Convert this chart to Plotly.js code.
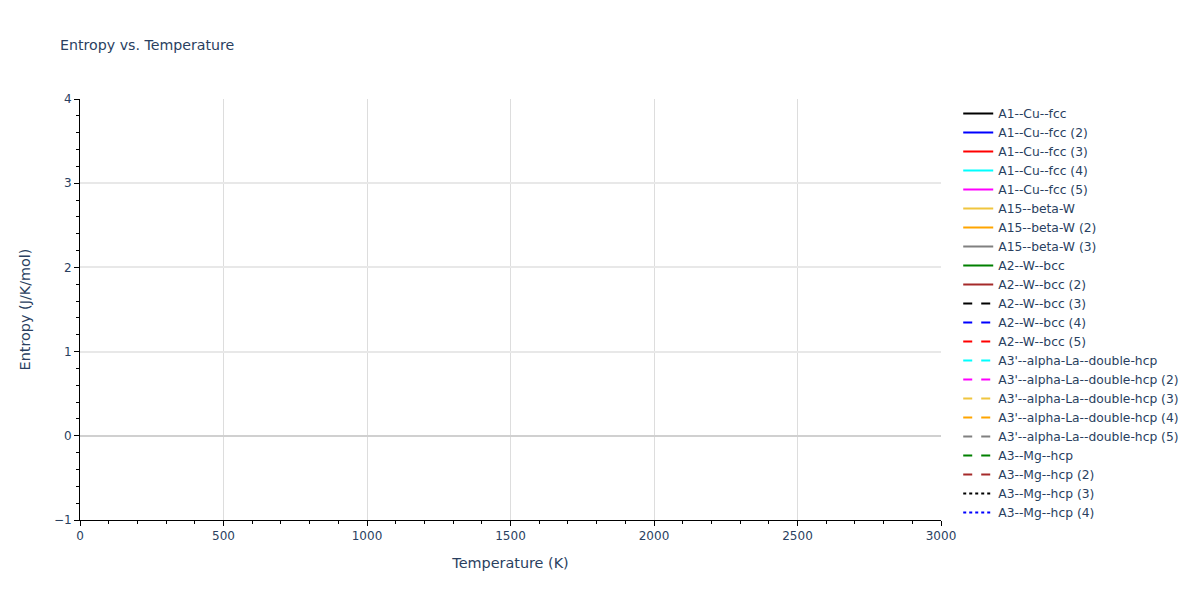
<!DOCTYPE html>
<html>
<head>
<meta charset="utf-8">
<script src="https://cdn.plot.ly/plotly-3.0.1.min.js"></script>
<style>
  html, body { margin: 0; padding: 0; }
  #chart { width: 1200px; height: 600px; }
</style>
</head>
<body>
<div id="chart"></div>
<script>
// series names, as in the legend
const names = [
    "A1--Cu--fcc", "A1--Cu--fcc (2)", "A1--Cu--fcc (3)", "A1--Cu--fcc (4)", "A1--Cu--fcc (5)",
    "A15--beta-W", "A15--beta-W (2)", "A15--beta-W (3)",
    "A2--W--bcc", "A2--W--bcc (2)", "A2--W--bcc (3)", "A2--W--bcc (4)", "A2--W--bcc (5)",
    "A3'--alpha-La--double-hcp", "A3'--alpha-La--double-hcp (2)", "A3'--alpha-La--double-hcp (3)",
    "A3'--alpha-La--double-hcp (4)", "A3'--alpha-La--double-hcp (5)",
    "A3--Mg--hcp", "A3--Mg--hcp (2)", "A3--Mg--hcp (3)", "A3--Mg--hcp (4)"
];

// the reference draws no points: every series holds only a missing value
const temperature = names.map(() => [null]);
const entropy = names.map(() => [null]);

const palette = ["black", "blue", "red", "cyan", "magenta", "#f0c53f", "orange", "gray", "green", "brown"];
const dashes = ["solid", "dash", "dot"];

const traces = names.map((name, i) => {
    return {
        x: temperature[i],
        y: entropy[i],
        type: 'scatter',
        mode: 'lines',
        name: name,
        showlegend: true,
        line: {
            color: palette[i % palette.length],
            dash: dashes[Math.floor(i / palette.length)],
            width: 2
        }
    };
});

const layout = {
    width: 1200,
    height: 600,
    margin: { l: 80, r: 259, t: 99, b: 80 },
    paper_bgcolor: 'white',
    plot_bgcolor: 'white',
    font: { family: '"DejaVu Sans", Verdana, sans-serif', color: '#2a3f5f', size: 12 },
    title: { text: 'Entropy vs. Temperature', x: 0.05, font: { size: 14.2 } },
    showlegend: true,
    legend: { x: 1.02, y: 1, maxheight: 600, font: { size: 12.3 } },
    xaxis: {
        title: { text: 'Temperature (K)', font: { size: 14.4 }, standoff: 15 },
        range: [0, 3000],
        showline: true, linecolor: 'black', linewidth: 1,
        ticks: 'outside', ticklen: 5, tickcolor: 'black',
        minor: { ticks: 'outside', ticklen: 3, tickcolor: 'black', dtick: 100 },
        showgrid: true, gridcolor: '#dddddd',
        zeroline: false
    },
    yaxis: {
        title: { text: 'Entropy (J/K/mol)', font: { size: 14.4 }, standoff: 19 },
        range: [-1, 4],
        showline: true, linecolor: 'black', linewidth: 1,
        ticks: 'outside', ticklen: 5, tickcolor: 'black',
        minor: { ticks: 'outside', ticklen: 3, tickcolor: 'black', dtick: 0.2 },
        showgrid: true, gridcolor: '#e8e8e8', gridwidth: 2,
        zeroline: true, zerolinecolor: '#d0d0d0', zerolinewidth: 2
    }
};

Plotly.newPlot('chart', traces, layout, { displayModeBar: false });
</script>
</body>
</html>
